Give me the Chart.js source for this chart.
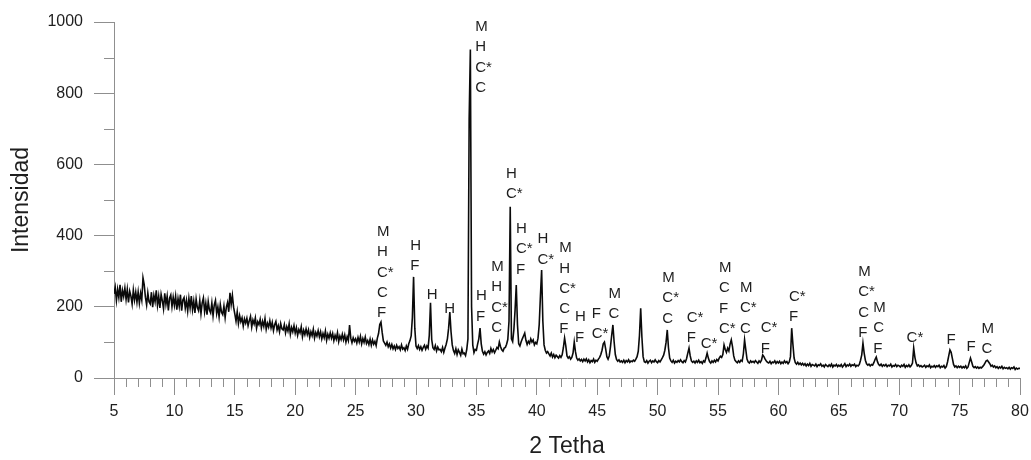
<!DOCTYPE html>
<html>
<head>
<meta charset="utf-8">
<script src="https://cdn.jsdelivr.net/npm/chart.js@4/dist/chart.umd.min.js"></script>
<style>
  body { margin: 0; background: #fff; }
  #wrap { width: 1031px; height: 460px; }
</style>
</head>
<body>
<div id="wrap"><canvas id="xrd"></canvas></div>
<script>
// 2 theta positions (degrees) of the scan, one row per degree
var twoTheta = [
5.0,5.1,5.2,5.3,5.4,5.5,5.6,5.7,5.8,5.9,
6.0,6.1,6.2,6.3,6.4,6.5,6.6,6.7,6.8,6.9,
7.0,7.1,7.2,7.3,7.4,7.5,7.6,7.7,7.8,7.9,
8.0,8.1,8.2,8.3,8.4,8.5,8.6,8.7,8.8,8.9,
9.0,9.1,9.2,9.3,9.4,9.5,9.6,9.7,9.8,9.9,
10.0,10.1,10.2,10.3,10.4,10.5,10.6,10.7,10.8,10.9,
11.0,11.1,11.2,11.3,11.4,11.5,11.6,11.7,11.8,11.9,
12.0,12.1,12.2,12.3,12.4,12.5,12.6,12.7,12.8,12.9,
13.0,13.1,13.2,13.3,13.4,13.5,13.6,13.7,13.8,13.9,
14.0,14.1,14.2,14.3,14.4,14.5,14.6,14.7,14.8,14.9,
15.0,15.1,15.2,15.3,15.4,15.5,15.6,15.7,15.8,15.9,
16.0,16.1,16.2,16.3,16.4,16.5,16.6,16.7,16.8,16.9,
17.0,17.1,17.2,17.3,17.4,17.5,17.6,17.7,17.8,17.9,
18.0,18.1,18.2,18.3,18.4,18.5,18.6,18.7,18.8,18.9,
19.0,19.1,19.2,19.3,19.4,19.5,19.6,19.7,19.8,19.9,
20.0,20.1,20.2,20.3,20.4,20.5,20.6,20.7,20.8,20.9,
21.0,21.1,21.2,21.3,21.4,21.5,21.6,21.7,21.8,21.9,
22.0,22.1,22.2,22.3,22.4,22.5,22.6,22.7,22.8,22.9,
23.0,23.1,23.2,23.3,23.4,23.5,23.6,23.7,23.8,23.9,
24.0,24.1,24.2,24.3,24.4,24.5,24.6,24.7,24.8,24.9,
25.0,25.1,25.2,25.3,25.4,25.5,25.6,25.7,25.8,25.9,
26.0,26.1,26.2,26.3,26.4,26.5,26.6,26.7,26.8,26.9,
27.0,27.1,27.2,27.3,27.4,27.5,27.6,27.7,27.8,27.9,
28.0,28.1,28.2,28.3,28.4,28.5,28.6,28.7,28.8,28.9,
29.0,29.1,29.2,29.3,29.4,29.5,29.6,29.7,29.8,29.9,
30.0,30.1,30.2,30.3,30.4,30.5,30.6,30.7,30.8,30.9,
31.0,31.1,31.2,31.3,31.4,31.5,31.6,31.7,31.8,31.9,
32.0,32.1,32.2,32.3,32.4,32.5,32.6,32.7,32.8,32.9,
33.0,33.1,33.2,33.3,33.4,33.5,33.6,33.7,33.8,33.9,
34.0,34.1,34.2,34.3,34.4,34.5,34.6,34.7,34.8,34.9,
35.0,35.1,35.2,35.3,35.4,35.5,35.6,35.7,35.8,35.9,
36.0,36.1,36.2,36.3,36.4,36.5,36.6,36.7,36.8,36.9,
37.0,37.1,37.2,37.3,37.4,37.5,37.6,37.7,37.8,37.9,
38.0,38.1,38.2,38.3,38.4,38.5,38.6,38.7,38.8,38.9,
39.0,39.1,39.2,39.3,39.4,39.5,39.6,39.7,39.8,39.9,
40.0,40.1,40.2,40.3,40.4,40.5,40.6,40.7,40.8,40.9,
41.0,41.1,41.2,41.3,41.4,41.5,41.6,41.7,41.8,41.9,
42.0,42.1,42.2,42.3,42.4,42.5,42.6,42.7,42.8,42.9,
43.0,43.1,43.2,43.3,43.4,43.5,43.6,43.7,43.8,43.9,
44.0,44.1,44.2,44.3,44.4,44.5,44.6,44.7,44.8,44.9,
45.0,45.1,45.2,45.3,45.4,45.5,45.6,45.7,45.8,45.9,
46.0,46.1,46.2,46.3,46.4,46.5,46.6,46.7,46.8,46.9,
47.0,47.1,47.2,47.3,47.4,47.5,47.6,47.7,47.8,47.9,
48.0,48.1,48.2,48.3,48.4,48.5,48.6,48.7,48.8,48.9,
49.0,49.1,49.2,49.3,49.4,49.5,49.6,49.7,49.8,49.9,
50.0,50.1,50.2,50.3,50.4,50.5,50.6,50.7,50.8,50.9,
51.0,51.1,51.2,51.3,51.4,51.5,51.6,51.7,51.8,51.9,
52.0,52.1,52.2,52.3,52.4,52.5,52.6,52.7,52.8,52.9,
53.0,53.1,53.2,53.3,53.4,53.5,53.6,53.7,53.8,53.9,
54.0,54.1,54.2,54.3,54.4,54.5,54.6,54.7,54.8,54.9,
55.0,55.1,55.2,55.3,55.4,55.5,55.6,55.7,55.8,55.9,
56.0,56.1,56.2,56.3,56.4,56.5,56.6,56.7,56.8,56.9,
57.0,57.1,57.2,57.3,57.4,57.5,57.6,57.7,57.8,57.9,
58.0,58.1,58.2,58.3,58.4,58.5,58.6,58.7,58.8,58.9,
59.0,59.1,59.2,59.3,59.4,59.5,59.6,59.7,59.8,59.9,
60.0,60.1,60.2,60.3,60.4,60.5,60.6,60.7,60.8,60.9,
61.0,61.1,61.2,61.3,61.4,61.5,61.6,61.7,61.8,61.9,
62.0,62.1,62.2,62.3,62.4,62.5,62.6,62.7,62.8,62.9,
63.0,63.1,63.2,63.3,63.4,63.5,63.6,63.7,63.8,63.9,
64.0,64.1,64.2,64.3,64.4,64.5,64.6,64.7,64.8,64.9,
65.0,65.1,65.2,65.3,65.4,65.5,65.6,65.7,65.8,65.9,
66.0,66.1,66.2,66.3,66.4,66.5,66.6,66.7,66.8,66.9,
67.0,67.1,67.2,67.3,67.4,67.5,67.6,67.7,67.8,67.9,
68.0,68.1,68.2,68.3,68.4,68.5,68.6,68.7,68.8,68.9,
69.0,69.1,69.2,69.3,69.4,69.5,69.6,69.7,69.8,69.9,
70.0,70.1,70.2,70.3,70.4,70.5,70.6,70.7,70.8,70.9,
71.0,71.1,71.2,71.3,71.4,71.5,71.6,71.7,71.8,71.9,
72.0,72.1,72.2,72.3,72.4,72.5,72.6,72.7,72.8,72.9,
73.0,73.1,73.2,73.3,73.4,73.5,73.6,73.7,73.8,73.9,
74.0,74.1,74.2,74.3,74.4,74.5,74.6,74.7,74.8,74.9,
75.0,75.1,75.2,75.3,75.4,75.5,75.6,75.7,75.8,75.9,
76.0,76.1,76.2,76.3,76.4,76.5,76.6,76.7,76.8,76.9,
77.0,77.1,77.2,77.3,77.4,77.5,77.6,77.7,77.8,77.9,
78.0,78.1,78.2,78.3,78.4,78.5,78.6,78.7,78.8,78.9,
79.0,79.1,79.2,79.3,79.4,79.5,79.6,79.7,79.8,79.9,
80.0
];

// counts at each position
var intensidad = [
236,255,218,249,226,262,214,246,229,253,
221,249,212,244,230,208,247,219,241,213,
242,210,238,219,281,262,227,205,239,214,
208,241,199,232,214,246,204,230,197,235,
217,194,238,207,230,190,224,233,200,227,
204,230,192,223,201,234,189,219,226,196,
218,188,224,197,230,192,216,183,222,198,
189,218,181,211,225,186,210,178,215,191,
183,211,175,205,218,181,200,172,207,185,
178,202,170,199,212,186,239,206,232,199,
180,160,186,153,175,158,169,146,166,154,
168,147,161,173,143,163,152,169,140,158,
150,165,141,159,145,167,137,154,143,161,
141,156,133,150,159,135,147,130,153,138,
135,150,127,144,132,152,123,142,130,147,
126,141,120,136,127,144,116,134,122,138,
122,135,114,130,119,137,112,128,118,133,
116,130,110,125,113,132,106,123,112,127,
112,125,105,120,109,127,102,118,108,123,
107,121,101,116,105,149,112,99,113,103,
110,98,114,101,117,96,111,100,115,97,
105,94,109,92,107,95,103,91,112,125,
150,157,128,104,98,92,101,88,96,84,
94,82,90,80,92,83,88,79,93,81,
85,77,90,81,96,105,118,170,284,140,
90,83,91,80,88,78,86,92,81,90,
84,120,211,108,85,80,91,76,87,79,
80,74,86,72,84,95,110,140,185,130,
93,77,69,82,66,79,72,64,81,68,
70,63,80,110,726,923,200,92,71,80,
78,95,110,140,96,75,67,74,65,72,
76,69,83,73,80,71,78,86,82,101,
88,79,75,84,86,95,108,160,481,110,
102,135,190,261,150,96,90,101,110,118,
126,106,94,103,97,110,101,107,93,100,
96,112,150,230,303,160,93,78,70,74,
68,62,70,59,66,57,64,60,56,63,
58,65,85,112,90,62,56,60,53,58,
70,101,74,56,50,54,48,52,46,53,
48,54,45,51,43,49,46,53,44,50,
47,53,58,66,78,96,101,82,60,53,
62,88,120,149,102,66,52,47,51,45,
48,44,50,43,49,45,51,44,48,46,
50,47,53,60,75,120,196,115,60,46,
44,49,42,47,50,43,48,45,51,46,
43,49,45,51,57,64,78,100,135,85,
56,48,44,50,42,47,44,49,45,51,
46,43,49,45,55,70,84,62,48,44,
47,42,48,44,50,43,46,41,48,45,
56,70,56,46,42,48,44,50,45,52,
48,56,61,58,66,93,80,72,84,76,
95,107,88,62,50,46,43,48,44,50,
47,68,107,80,53,45,42,48,44,47,
43,49,45,41,48,44,50,65,60,53,
48,44,42,47,40,45,43,48,41,46,
42,47,40,45,41,48,43,46,40,45,
60,140,95,56,43,39,44,38,42,37,
41,36,40,34,39,35,41,33,38,36,
34,39,32,37,35,40,33,36,31,38,
35,32,37,33,39,31,36,34,38,32,
36,33,38,31,35,40,32,37,34,39,
33,37,35,39,32,36,34,38,50,65,
98,70,50,40,36,39,34,38,36,43,
52,59,46,38,35,39,33,37,34,38,
32,36,34,39,31,35,33,38,32,36,
34,31,36,33,38,30,35,32,37,31,
35,42,84,58,42,34,37,32,35,31,
33,36,30,34,32,37,29,33,31,35,
30,34,32,36,29,33,31,35,28,32,
45,62,79,72,55,38,31,34,29,33,
30,33,28,32,29,34,27,31,44,56,
45,33,29,32,28,31,27,30,28,32,
36,42,48,50,45,40,33,36,31,34,
29,32,27,31,28,33,26,30,27,29,
26,30,25,29,27,31,24,28,25,27,
27
];

// phase labels: anchor angle, anchor intensity of the first line, phases
var faseAngulo = [26.77, 29.52, 30.90, 32.34, 34.90, 34.96, 36.22, 37.44, 38.27, 40.05,
  41.85, 43.17, 44.55, 45.93, 50.39, 52.41, 53.57, 55.08, 56.82, 58.53,
  60.87, 66.61, 67.85, 70.61, 73.92, 75.57, 76.81];
var faseAltura = [410, 371, 233, 194, 986, 230, 312, 573, 419, 390,
  365, 171, 180, 236, 281, 169, 96, 309, 253, 140,
  228, 298, 197, 112, 107, 87, 138];
var fases = [
  ['M','H','C*','C','F'], ['H','F'], ['H'], ['H'], ['M','H','C*','C'], ['H','F'],
  ['M','H','C*','C'], ['H','C*'], ['H','C*','F'], ['H','C*'], ['M','H','C*','C','F'],
  ['H','F'], ['F','C*'], ['M','C'], ['M','C*','C'], ['C*','F'], ['C*'],
  ['M','C','F','C*'], ['M','C*','C'], ['C*','F'], ['C*','F'], ['M','C*','C','F'],
  ['M','C','F'], ['C*'], ['F'], ['F'], ['M','C']
];

var ejeColor = '#8f8f8f';
var textoColor = '#1e1e1e';
var fuente = 'Liberation Sans, Arial, sans-serif';

// minor ticks on both axes and the phase letters over the peaks
var extras = {
  id: 'extras',
  afterDraw: function (chart) {
    var c = chart.ctx, xs = chart.scales.x, ys = chart.scales.y;
    var base = ys.getPixelForValue(0);
    c.save();
    c.strokeStyle = ejeColor;
    c.lineWidth = 1;
    c.beginPath();
    for (var d = 6; d < 80; d++) {
      if (d % 5 === 0) continue;
      var px = Math.round(xs.getPixelForValue(d)) + 0.5;
      c.moveTo(px, base);
      c.lineTo(px, base + 9);
    }
    for (var v = 100; v < 1000; v += 200) {
      var py = Math.round(ys.getPixelForValue(v)) + 0.5;
      c.moveTo(xs.left, py);
      c.lineTo(xs.left - 10, py);
    }
    c.stroke();

    c.fillStyle = textoColor;
    c.font = '15px ' + fuente;
    c.textAlign = 'left';
    c.textBaseline = 'middle';
    for (var i = 0; i < fases.length; i++) {
      var x0 = xs.getPixelForValue(faseAngulo[i]);
      var y0 = ys.getPixelForValue(faseAltura[i]);
      for (var k = 0; k < fases[i].length; k++) {
        c.fillText(fases[i][k], x0, y0 + k * 20.3);
      }
    }
    c.restore();
  }
};

var puntos = twoTheta.map(function (t, i) { return { x: t, y: intensidad[i] }; });

new Chart(document.getElementById('xrd'), {
  type: 'line',
  data: {
    datasets: [{
      data: puntos,
      borderColor: '#0a0a0a',
      borderWidth: 1.6,
      pointRadius: 0,
      fill: false,
      tension: 0
    }]
  },
  options: {
    responsive: true,
    maintainAspectRatio: false,
    animation: false,
    layout: { padding: { top: 22, right: 11, left: 0, bottom: 0 } },
    plugins: { legend: { display: false }, tooltip: { enabled: false } },
    scales: {
      x: {
        type: 'linear',
        min: 5,
        max: 80,
        afterFit: function (s) {
          s.height = 82;
          s.paddingRight = 0;
          s.paddingLeft = 0;
        },
        border: { color: ejeColor, width: 1 },
        grid: { drawOnChartArea: false, tickLength: 17, tickColor: ejeColor },
        ticks: {
          stepSize: 5,
          padding: 7,
          color: textoColor,
          font: { family: fuente, size: 16 },
          maxRotation: 0
        },
        title: {
          display: true,
          text: '2 Tetha',
          color: textoColor,
          font: { family: fuente, size: 23 },
          padding: { top: 0, bottom: 0 }
        }
      },
      y: {
        min: 0,
        max: 1000,
        afterFit: function (s) { s.width = 114; },
        border: { color: ejeColor, width: 1 },
        grid: { drawOnChartArea: false, tickLength: 20, tickColor: ejeColor },
        ticks: {
          stepSize: 200,
          padding: 11,
          color: textoColor,
          font: { family: fuente, size: 16 },
          callback: function (value) { return String(value); }
        },
        title: {
          display: true,
          text: 'Intensidad',
          color: textoColor,
          font: { family: fuente, size: 23 },
          padding: { top: 8, bottom: 0 }
        }
      }
    }
  },
  plugins: [extras]
});
</script>
</body>
</html>
